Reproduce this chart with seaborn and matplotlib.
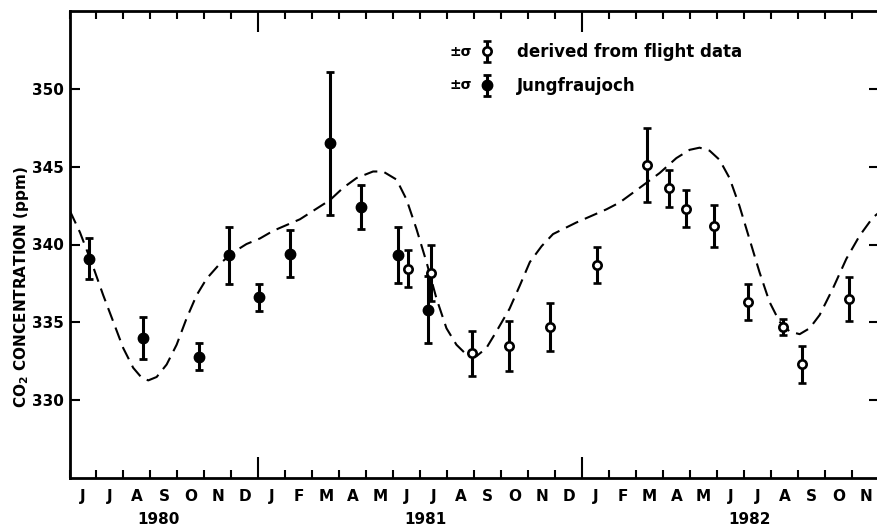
import numpy as np
import pandas as pd
import matplotlib
matplotlib.use("Agg")
import matplotlib.pyplot as plt
import seaborn as sns
from matplotlib.container import ErrorbarContainer
from matplotlib.legend_handler import HandlerErrorbar

# ---- data (x in months since 1 June 1980) ----
MONTH_LABELS = ['J', 'J', 'A', 'S', 'O', 'N', 'D',
                'J', 'F', 'M', 'A', 'M', 'J', 'J', 'A', 'S', 'O', 'N', 'D',
                'J', 'F', 'M', 'A', 'M', 'J', 'J', 'A', 'S', 'O', 'N']
YEAR_LABELS = ['1980', '1981', '1982']
YEAR_LABEL_POS = [3.3, 13.2, 25.2]
YEAR_BOUNDARIES = [7, 19]

JF_MONTH = [0.73, 2.71, 4.81, 5.92, 7.03, 8.19, 9.65, 10.82, 12.19, 13.29]
JF_PPM = [339.1, 334.0, 332.8, 339.3, 336.6, 339.4, 346.5, 342.4, 339.3, 335.8]
JF_SIG = [1.3, 1.35, 0.85, 1.85, 0.85, 1.5, 4.6, 1.4, 1.8, 2.15]

FL_MONTH = [12.53, 13.39, 14.90, 16.28, 17.82, 19.55, 21.41, 22.21, 22.86,
            23.88, 25.14, 26.46, 27.16, 28.87]
FL_PPM = [338.45, 338.2, 333.0, 333.5, 334.7, 338.7, 345.1, 343.6, 342.3,
          341.2, 336.3, 334.7, 332.3, 336.5]
FL_SIG = [1.2, 1.8, 1.45, 1.6, 1.55, 1.15, 2.4, 1.2, 1.2, 1.35, 1.15, 0.5,
          1.2, 1.4]

CURVE_MONTH = [0.02, 0.39, 0.88, 1.25, 1.62, 1.99, 2.36, 2.67, 2.92, 3.23,
               3.60, 3.97, 4.34, 4.71, 5.08, 5.57, 6.07, 6.56, 7.06, 7.55,
               8.54, 9.65, 10.14, 10.64, 11.25, 11.62, 12.12, 12.49, 12.86,
               13.23, 13.60, 13.97, 14.34, 14.71, 15.08, 15.45, 15.82, 16.31,
               16.69, 17.06, 17.50, 17.92, 18.78, 19.90, 20.39, 21.13, 21.87,
               22.49, 22.98, 23.35, 23.72, 24.09, 24.46, 24.83, 25.20, 25.57,
               25.94, 26.31, 26.69, 27.06, 27.43, 27.80, 28.29, 28.79, 29.28,
               29.77, 30.0]
CURVE_PPM = [342.14, 340.77, 338.55, 336.74, 335.05, 333.35, 332.08, 331.45,
             331.27, 331.49, 332.29, 333.56, 335.26, 336.74, 337.8, 338.76,
             339.5, 340.03, 340.39, 340.88, 341.62, 342.85, 343.64, 344.27,
             344.69, 344.69, 344.17, 342.89, 340.99, 338.87, 336.53, 334.62,
             333.56, 332.93, 332.82, 333.35, 334.41, 335.88, 337.37, 338.87,
             339.9, 340.67, 341.41, 342.26, 342.7, 343.64, 344.59, 345.55,
             346.08, 346.22, 346.03, 345.44, 344.27, 342.47, 340.35, 338.23,
             336.32, 335.05, 334.41, 334.24, 334.62, 335.47, 337.17, 339.08,
             340.56, 341.73, 342.05]

curve = pd.DataFrame({"month": CURVE_MONTH, "ppm": CURVE_PPM})

sns.set_theme(style="ticks")
plt.rcParams['font.family'] = ['DejaVu Sans']
plt.rcParams['font.weight'] = 'bold'
for k in ('text.color', 'axes.labelcolor', 'xtick.color', 'ytick.color',
          'axes.edgecolor'):
    plt.rcParams[k] = 'black'

fig = plt.figure(figsize=(8.77, 5.26), dpi=100)
ax = fig.add_axes([69.5 / 877, 1 - 478 / 526, 809.5 / 877, 467 / 526])

sns.lineplot(data=curve, x="month", y="ppm", ax=ax, color="black",
             linewidth=1.5, sort=False)
ax.lines[0].set_dashes((6.5, 3.5))

c_fl = ax.errorbar(FL_MONTH, FL_PPM, yerr=FL_SIG, fmt='o', color='black',
                   markerfacecolor='white', markeredgecolor='black',
                   markersize=6, markeredgewidth=1.9, elinewidth=2.2,
                   capsize=2.8, capthick=2.0, label='derived from flight data',
                   zorder=4)
c_jf = ax.errorbar(JF_MONTH, JF_PPM, yerr=JF_SIG, fmt='o', color='black',
                   markersize=7.5, elinewidth=2.2, capsize=2.8, capthick=2.0,
                   label='Jungfraujoch', zorder=3)

ax.set_xlim(0, 30)
ax.set_ylim(325, 355)
ax.set_yticks([330, 335, 340, 345, 350])
ax.set_xticks(YEAR_BOUNDARIES)
ax.set_xticks(np.arange(0, 31), minor=True)
ax.set_xticklabels([])
ax.tick_params(axis='x', which='major', direction='in', length=15, width=1.5,
               top=True, bottom=True)
ax.tick_params(axis='x', which='minor', direction='in', length=6, width=1.5,
               top=True, bottom=True)
ax.tick_params(axis='y', which='major', direction='in', length=7, width=1.5,
               left=True, right=True, labelsize=11, pad=4)
for lab in ax.get_yticklabels():
    lab.set_fontweight('bold')
for s in ax.spines.values():
    s.set_linewidth(2.0)
    s.set_color('black')

xt = ax.get_xaxis_transform()
for i, m in enumerate(MONTH_LABELS):
    ax.text(i + 0.5, -0.04, m, transform=xt, ha='center', va='center',
            fontsize=11, fontweight='bold')
for pos, y in zip(YEAR_LABEL_POS, YEAR_LABELS):
    ax.text(pos, -0.088, y, transform=xt, ha='center', va='center',
            fontsize=11, fontweight='bold')

ax.set_xlabel('')
ax.set_ylabel('CO$_2$ CONCENTRATION (ppm)', fontsize=11, fontweight='bold')
ax.yaxis.set_label_coords(-0.047, 0.41)

leg = ax.legend(handles=[c_fl, c_jf], loc='upper left',
                bbox_to_anchor=(0.506, 0.931), frameon=False, numpoints=1,
                handlelength=1.0, handletextpad=1.25, labelspacing=0.95,
                borderpad=0, borderaxespad=0,
                prop={'size': 12, 'weight': 'bold'},
                handler_map={ErrorbarContainer: HandlerErrorbar(xerr_size=0.62)})
for row_y in (0.912, 0.842):
    ax.text(0.497, row_y, '±σ', transform=ax.transAxes, ha='right',
            va='center', fontsize=10, fontweight='bold')

fig.savefig('out.png', dpi=100)
